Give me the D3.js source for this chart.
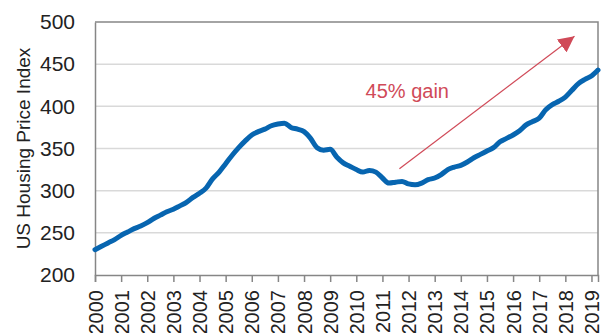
<!DOCTYPE html>
<html>
<head>
<meta charset="utf-8">
<script src="https://cdn.jsdelivr.net/npm/d3@7"></script>
<style>
  html, body { margin: 0; padding: 0; background: #fff; }
  svg { display: block; }
  text { font-family: "Liberation Sans", Arial, sans-serif; }
</style>
</head>
<body>
<svg id="chart" width="609" height="333"></svg>
<script>
// Quarterly US housing price index, 2000 Q1 onward
const startYear = 2000;
const indexValues = [
  230, 234, 238, 242, 247, 251, 255, 258, 262, 267,
  271, 275, 278, 282, 286, 292, 297, 303, 314, 322,
  332, 342, 351, 359, 366, 370, 373, 377, 379, 380,
  375, 373, 370, 362, 351, 348, 349, 340, 333, 329,
  325, 322, 324, 322, 315, 309, 310, 311, 308, 307,
  309, 313, 315, 319, 325, 328, 330, 334, 339, 343,
  347, 351, 358, 362, 366, 371, 378, 382, 386, 396,
  402, 406, 411, 419, 427, 432, 436, 443
];
const yearTicks = d3.range(2000, 2020);
const valueTicks = [200, 250, 300, 350, 400, 450, 500];

// Annotation: trend arrow (year, index) from the 2012 trough upward
const arrowFrom = [2011.65, 326];
const arrowTo = [2018.35, 483];
const gainLabel = "45% gain";
const gainLabelAt = [2011.95, 410];

const series = indexValues.map((v, i) => ({ t: startYear + i / 4, v }));

const margin = { left: 95, right: 11, top: 22, bottom: 58 };
const W = 609, H = 333;
const svg = d3.select("#chart");

const x = d3.scaleLinear()
  .domain([startYear, series[series.length - 1].t])
  .range([margin.left, W - margin.right]);
const y = d3.scaleLinear()
  .domain([200, 500])
  .range([H - margin.bottom, margin.top]);

// Gridlines
svg.append("g")
  .selectAll("line")
  .data(valueTicks.filter(d => d > 200 && d < 500))
  .join("line")
  .attr("x1", margin.left).attr("x2", W - margin.right)
  .attr("y1", d => y(d)).attr("y2", d => y(d))
  .attr("stroke", "#d9d9d9").attr("stroke-width", 1.5);

// Frame: top and right borders
svg.append("path")
  .attr("d", `M${margin.left},${y(500)}H${W - margin.right}V${y(200)}`)
  .attr("fill", "none").attr("stroke", "#868686").attr("stroke-width", 1.5);

// Y axis
const yAxis = svg.append("g")
  .attr("transform", `translate(${margin.left},0)`)
  .call(d3.axisLeft(y).tickValues(valueTicks).tickSize(0).tickPadding(20));
yAxis.select(".domain").attr("stroke", "#868686").attr("stroke-width", 1.5);
yAxis.selectAll("text").attr("font-size", 21).attr("fill", "#222");

// X axis
const xAxis = svg.append("g")
  .attr("transform", `translate(0,${y(200)})`)
  .call(d3.axisBottom(x).tickValues(yearTicks).tickFormat(d3.format("d")).tickSizeOuter(0).tickSize(7));
xAxis.select(".domain").attr("stroke", "#868686").attr("stroke-width", 1.5);
xAxis.selectAll(".tick line").attr("stroke", "#868686").attr("stroke-width", 1.5);
xAxis.selectAll("text")
  .attr("font-size", 20).attr("fill", "#222")
  .attr("transform", "rotate(-90)")
  .attr("text-anchor", "end")
  .attr("x", -15).attr("y", 0).attr("dy", "0.35em");

// Y axis title
svg.append("text")
  .attr("transform", `translate(30,${(y(200) + y(500)) / 2}) rotate(-90)`)
  .attr("text-anchor", "middle")
  .attr("font-size", 19).attr("fill", "#222")
  .text("US Housing Price Index");

// Index line
svg.append("path")
  .datum(series)
  .attr("fill", "none")
  .attr("stroke", "#0765b0")
  .attr("stroke-width", 5)
  .attr("stroke-linejoin", "round")
  .attr("stroke-linecap", "round")
  .attr("d", d3.line().x(d => x(d.t)).y(d => y(d.v)).curve(d3.curveMonotoneX));

// Trend arrow
const red = "#d04a58";
svg.append("defs").append("marker")
  .attr("id", "head")
  .attr("viewBox", "0 0 10 10")
  .attr("refX", 10).attr("refY", 5)
  .attr("markerWidth", 16).attr("markerHeight", 16)
  .attr("markerUnits", "userSpaceOnUse")
  .attr("orient", "auto")
  .append("path").attr("d", "M0,0L10,5L0,10Z").attr("fill", red);
svg.append("line")
  .attr("x1", x(arrowFrom[0])).attr("y1", y(arrowFrom[1]))
  .attr("x2", x(arrowTo[0])).attr("y2", y(arrowTo[1]))
  .attr("stroke", red).attr("stroke-width", 1.2)
  .attr("marker-end", "url(#head)");

svg.append("text")
  .attr("x", x(gainLabelAt[0])).attr("y", y(gainLabelAt[1]))
  .attr("text-anchor", "middle")
  .attr("font-family", "Lato, 'Open Sans', sans-serif")
  .attr("font-size", 20).attr("fill", red)
  .text(gainLabel);
</script>
</body>
</html>
